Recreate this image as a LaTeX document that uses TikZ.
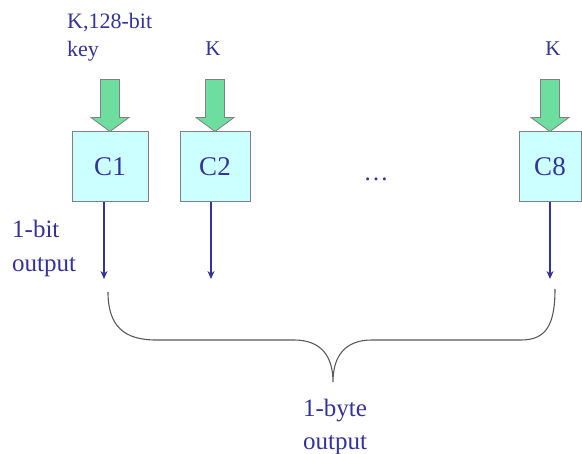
\documentclass[tikz,border=0pt]{standalone}
\usepackage{fontspec}
\setmainfont{Liberation Serif}
\usetikzlibrary{arrows.meta}
\definecolor{inkblue}{RGB}{51,51,153}
\definecolor{cellfill}{RGB}{204,255,255}
\definecolor{keygreen}{RGB}{110,222,160}
\definecolor{edgegray}{RGB}{128,128,128}
\tikzset{
  cell/.style={draw=edgegray, line width=1pt, fill=cellfill, rectangle,
    minimum height=70pt, inner sep=0pt, text=inkblue,
    font=\fontsize{27}{27}\selectfont},
  lbl/.style={text=inkblue, inner sep=0pt, align=left},
  keyarrow/.style={draw=edgegray, line width=0.8pt, fill=keygreen},
  bitout/.style={draw=inkblue, line width=1.8pt,
    -{Stealth[length=8pt,width=7pt]}},
  brace/.style={draw=black!65, line width=1.1pt}
}
% block arrow pointing down onto the top of a cell
\newcommand{\keyin}[1]{%
  \path[keyarrow] ([xshift=-9.5pt,yshift=52pt]#1.north)
    -- ([xshift=9.5pt,yshift=52pt]#1.north)
    -- ([xshift=9.5pt,yshift=14pt]#1.north)
    -- ([xshift=19pt,yshift=14pt]#1.north)
    -- (#1.north)
    -- ([xshift=-19pt,yshift=14pt]#1.north)
    -- ([xshift=-9.5pt,yshift=14pt]#1.north) -- cycle;}
\begin{document}
\begin{tikzpicture}[x=1pt,y=-1pt]
\useasboundingbox (0,0) rectangle (582,454);

% the eight cells (only C1, C2 and C8 shown)
\node[cell, minimum width=76pt] (c1) at (110,167) {C1};
\node[cell, minimum width=70pt] (c2) at (215,167) {C2};
\node[cell, minimum width=62pt] (c8) at (550,167) {C8};

\node[lbl, anchor=base, font=\fontsize{25}{25}\selectfont] (dots) at (376,181) {\dots};

% key inputs
\keyin{c1}
\keyin{c2}
\keyin{c8}
% multi-line labels are anchored at the baseline of their last line
\node[lbl, anchor=base west, font=\fontsize{22}{28}\selectfont] (k1) at (67,57) {K,128-bit\\key};
\node[lbl, anchor=base, font=\fontsize{21}{21}\selectfont] (k2) at (213,56) {K};
\node[lbl, anchor=base, font=\fontsize{21}{21}\selectfont] (k8) at (553,56) {K};

% one output bit per cell
\coordinate (o1) at (104,279);
\coordinate (o2) at (211,279);
\coordinate (o8) at (550,279);
\draw[bitout] (c1.south -| o1) -- (o1);
\draw[bitout] (c2.south -| o2) -- (o2);
\draw[bitout] (c8.south -| o8) -- (o8);

\node[lbl, anchor=base west, font=\fontsize{25}{34}\selectfont] (bitlbl) at (12,272) {1-bit\\output};

% brace collecting the bits into a byte
\coordinate (bl) at (108,292);
\coordinate (tip) at (333,382);
\coordinate (br) at (555,289);
\draw[brace] (bl) .. controls (108,326) and (124,340) .. (156,340)
  -- (294,340) .. controls (321,340) and (333,356) .. (tip)
  .. controls (333,356) and (345,340) .. (372,340)
  -- (521,340) .. controls (546,340) and (555,325) .. (br);

\node[lbl, anchor=base, align=center, font=\fontsize{25}{33}\selectfont] (bytelbl) at (335,450) {1-byte\\output};
\end{tikzpicture}
\end{document}
